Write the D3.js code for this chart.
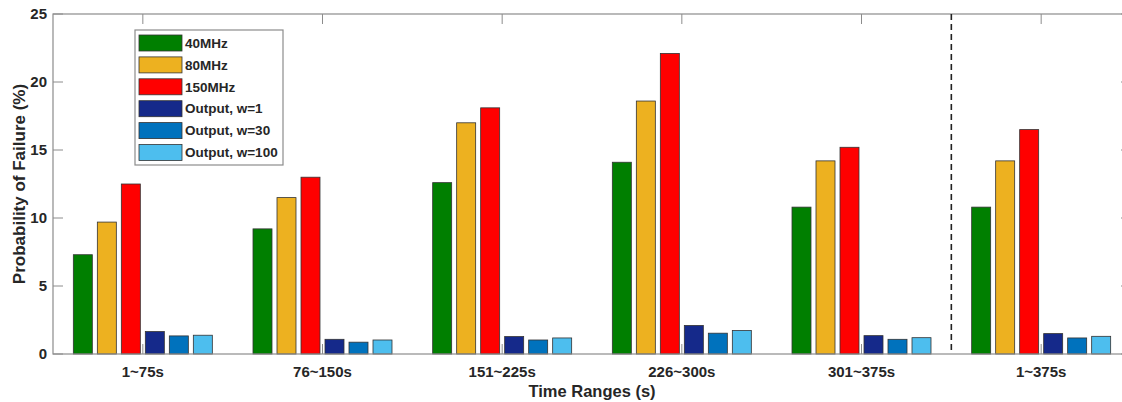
<!DOCTYPE html>
<html>
<head>
<meta charset="utf-8">
<script src="https://cdn.jsdelivr.net/npm/d3@7"></script>
<style>
  body { margin: 0; background: #fff; }
  svg { display: block; font-family: "Liberation Sans", Arial, sans-serif; }
</style>
</head>
<body>
<div id="chart"></div>
<script>
// Data
const categories = ["1~75s", "76~150s", "151~225s", "226~300s", "301~375s", "1~375s"];
const seriesNames = ["40MHz", "80MHz", "150MHz", "Output, w=1", "Output, w=30", "Output, w=100"];
const seriesColors = ["#007f00", "#edb120", "#ff0000", "#15298a", "#0072bd", "#4dbeee"];

const mhz40 = [7.3, 9.2, 12.6, 14.1, 10.8, 10.8];
const mhz80 = [9.7, 11.5, 17.0, 18.6, 14.2, 14.2];
const mhz150 = [12.5, 13.0, 18.1, 22.1, 15.2, 16.5];
const outW1 = [1.65, 1.08, 1.28, 2.1, 1.35, 1.5];
const outW30 = [1.33, 0.87, 1.03, 1.53, 1.08, 1.18];
const outW100 = [1.38, 1.03, 1.18, 1.73, 1.2, 1.3];

const yTicks = [0, 5, 10, 15, 20, 25];

const series = [mhz40, mhz80, mhz150, outW1, outW30, outW100];

const fullWidth = 1122;
const fullHeight = 402;
const margin = { top: 14, left: 53, bottom: 48 };
const plotRight = 1131;
const height = fullHeight - margin.top - margin.bottom;

const svg = d3.select("#chart")
  .append("svg")
  .attr("width", fullWidth)
  .attr("height", fullHeight);

// Scales
const x = d3.scaleLinear()
  .domain([0.5, categories.length + 0.5])
  .range([margin.left, plotRight]);

const y = d3.scaleLinear()
  .domain([0, 25])
  .range([margin.top + height, margin.top]);

const unitPx = x(2) - x(1);
const barPitch = 24 / unitPx;
const barWidth = 19 / unitPx;

// Bars
series.forEach((vals, si) => {
  svg.append("g")
    .selectAll("rect")
    .data(vals)
    .join("rect")
    .attr("x", (d, i) => x(i + 1 + (si - 2.5) * barPitch - barWidth / 2))
    .attr("y", d => y(d))
    .attr("width", x(1 + barWidth) - x(1))
    .attr("height", d => y(0) - y(d))
    .attr("fill", seriesColors[si])
    .attr("stroke", "#333")
    .attr("stroke-width", 0.8);
});

// Axes box
const axisColor = "#8c8c8c";
const tickLen = 10;

svg.append("rect")
  .attr("x", margin.left)
  .attr("y", margin.top)
  .attr("width", plotRight - margin.left)
  .attr("height", height)
  .attr("fill", "none")
  .attr("stroke", axisColor)
  .attr("stroke-width", 1.2);

// Y axis ticks
const yAxis = svg.append("g");
yTicks.forEach(t => {
  yAxis.append("line")
    .attr("x1", margin.left).attr("x2", margin.left + tickLen)
    .attr("y1", y(t)).attr("y2", y(t))
    .attr("stroke", axisColor);
  yAxis.append("line")
    .attr("x1", plotRight).attr("x2", plotRight - tickLen)
    .attr("y1", y(t)).attr("y2", y(t))
    .attr("stroke", axisColor);
  yAxis.append("text")
    .attr("x", margin.left - 6)
    .attr("y", y(t))
    .attr("dy", "0.35em")
    .attr("text-anchor", "end")
    .attr("font-size", 15)
    .attr("font-weight", "bold")
    .attr("fill", "#262626")
    .text(t);
});

// X axis ticks
const xAxis = svg.append("g");
categories.forEach((c, i) => {
  const cx = x(i + 1);
  xAxis.append("line")
    .attr("x1", cx).attr("x2", cx)
    .attr("y1", y(0)).attr("y2", y(0) - tickLen)
    .attr("stroke", axisColor);
  xAxis.append("line")
    .attr("x1", cx).attr("x2", cx)
    .attr("y1", y(25)).attr("y2", y(25) + tickLen)
    .attr("stroke", axisColor);
  xAxis.append("text")
    .attr("x", cx)
    .attr("y", y(0) + 23)
    .attr("text-anchor", "middle")
    .attr("font-size", 15)
    .attr("font-weight", "bold")
    .attr("fill", "#262626")
    .text(c);
});

// Dashed separator
svg.append("line")
  .attr("x1", x(5.5)).attr("x2", x(5.5))
  .attr("y1", y(25)).attr("y2", y(0))
  .attr("stroke", "#222")
  .attr("stroke-width", 1.6)
  .attr("stroke-dasharray", "6,4");

// Axis labels
svg.append("text")
  .attr("x", (margin.left + plotRight) / 2)
  .attr("y", 397)
  .attr("text-anchor", "middle")
  .attr("font-size", 16.5)
  .attr("font-weight", "bold")
  .attr("fill", "#262626")
  .text("Time Ranges (s)");

svg.append("text")
  .attr("transform", `translate(25,${margin.top + height / 2}) rotate(-90)`)
  .attr("text-anchor", "middle")
  .attr("font-size", 17)
  .attr("font-weight", "bold")
  .attr("fill", "#262626")
  .text("Probability of Failure (%)");

// Legend
const legend = svg.append("g").attr("transform", "translate(135,30)");
legend.append("rect")
  .attr("width", 148)
  .attr("height", 135)
  .attr("fill", "#fff")
  .attr("stroke", axisColor)
  .attr("stroke-width", 1.2);

seriesNames.forEach((name, i) => {
  const row = legend.append("g").attr("transform", `translate(0,${5 + i * 21.9})`);
  row.append("rect")
    .attr("x", 4).attr("y", 0)
    .attr("width", 43).attr("height", 16)
    .attr("fill", seriesColors[i])
    .attr("stroke", "#333")
    .attr("stroke-width", 0.8);
  row.append("text")
    .attr("x", 50).attr("y", 8)
    .attr("dy", "0.35em")
    .attr("font-size", 13.5)
    .attr("font-weight", "bold")
    .attr("fill", "#262626")
    .text(name);
});
</script>
</body>
</html>
